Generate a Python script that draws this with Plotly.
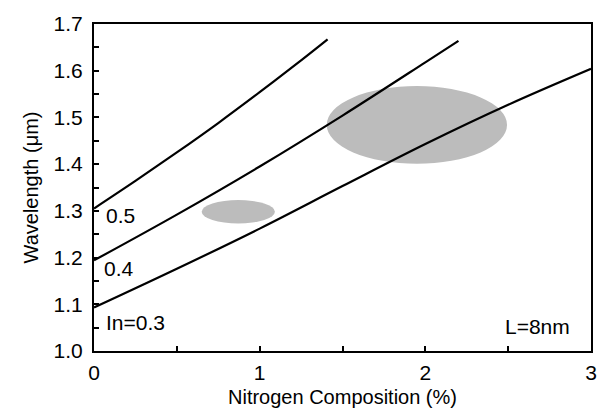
import plotly.graph_objects as go

# Curves: wavelength vs nitrogen composition for several In contents
x_in05 = [0, 0.25, 0.5, 0.75, 1.0, 1.25, 1.41]
y_in05 = [1.305, 1.364, 1.425, 1.488, 1.554, 1.622, 1.667]
x_in04 = [0, 0.5, 1.0, 1.5, 2.0, 2.2]
y_in04 = [1.194, 1.292, 1.395, 1.504, 1.618, 1.664]
x_in03 = [0, 0.5, 1.0, 1.5, 2.0, 2.5, 3.0]
y_in03 = [1.093, 1.176, 1.262, 1.353, 1.443, 1.527, 1.604]

# Shaded regions (ellipses): centre x, centre y, half-width, half-height
ell_cx = [0.871, 1.949]
ell_cy = [1.298, 1.484]
ell_rx = [0.221, 0.544]
ell_ry = [0.025, 0.0832]

# Curve labels
lab_text = ["0.5", "0.4", "In=0.3"]
lab_x = [0.06, 0.05, 0.06]
lab_y = [1.291, 1.176, 1.061]

FONT = "Liberation Sans, Arial, Helvetica, sans-serif"
FS = 21

fig = go.Figure()
for xs, ys in [(x_in05, y_in05), (x_in04, y_in04), (x_in03, y_in03)]:
    fig.add_trace(go.Scatter(x=xs, y=ys, mode="lines",
                             line=dict(color="black", width=2.2, shape="spline", smoothing=1.0),
                             showlegend=False, hoverinfo="skip"))

for cx, cy, rx, ry in zip(ell_cx, ell_cy, ell_rx, ell_ry):
    fig.add_shape(type="circle", xref="x", yref="y",
                  x0=cx - rx, x1=cx + rx, y0=cy - ry, y1=cy + ry,
                  fillcolor="rgb(188,188,188)", line=dict(width=0), layer="below")

for t, xx, yy in zip(lab_text, lab_x, lab_y):
    fig.add_annotation(x=xx, y=yy, xref="x", yref="y", text=t, showarrow=False,
                       xanchor="left", yanchor="middle",
                       font=dict(family=FONT, size=FS, color="black"))
fig.add_annotation(x=2.886, y=1.052, xref="x", yref="y", text="L=8nm", showarrow=False,
                   xanchor="right", yanchor="middle",
                   font=dict(family=FONT, size=FS, color="black"))

fig.update_layout(
    width=609, height=420,
    margin=dict(l=94, r=15, t=17, b=69),
    paper_bgcolor="white", plot_bgcolor="white",
    font=dict(family=FONT, size=FS, color="black"),
    xaxis=dict(range=[0, 3], tickvals=[0, 1, 2, 3], ticktext=["0", "1", "2", "3"],
               ticks="inside", ticklen=5, tickwidth=1.5, tickcolor="black",
               minor=dict(tickvals=[0.5, 1.5, 2.5], ticks="inside", ticklen=5,
                          tickwidth=1.5, tickcolor="black"),
               showline=True, linecolor="black", linewidth=2, mirror=True,
               showgrid=False, zeroline=False, ticklabelstandoff=2,
               title=dict(text="Nitrogen Composition (%)", standoff=7,
                          font=dict(size=20))),
    yaxis=dict(range=[1.0, 1.7], tickvals=[1.0, 1.1, 1.2, 1.3, 1.4, 1.5, 1.6, 1.7],
               ticktext=["1.0", "1.1", "1.2", "1.3", "1.4", "1.5", "1.6", "1.7"],
               ticks="inside", ticklen=5, tickwidth=1.5, tickcolor="black",
               minor=dict(tickvals=[1.05, 1.15, 1.25, 1.35, 1.45, 1.55, 1.65],
                          ticks="inside", ticklen=5, tickwidth=1.5, tickcolor="black"),
               showline=True, linecolor="black", linewidth=2, mirror=True,
               showgrid=False, zeroline=False, ticklabelstandoff=5,
               title=dict(text="Wavelength (μm)", standoff=10, font=dict(size=20))),
)

fig.write_html("out.html")
